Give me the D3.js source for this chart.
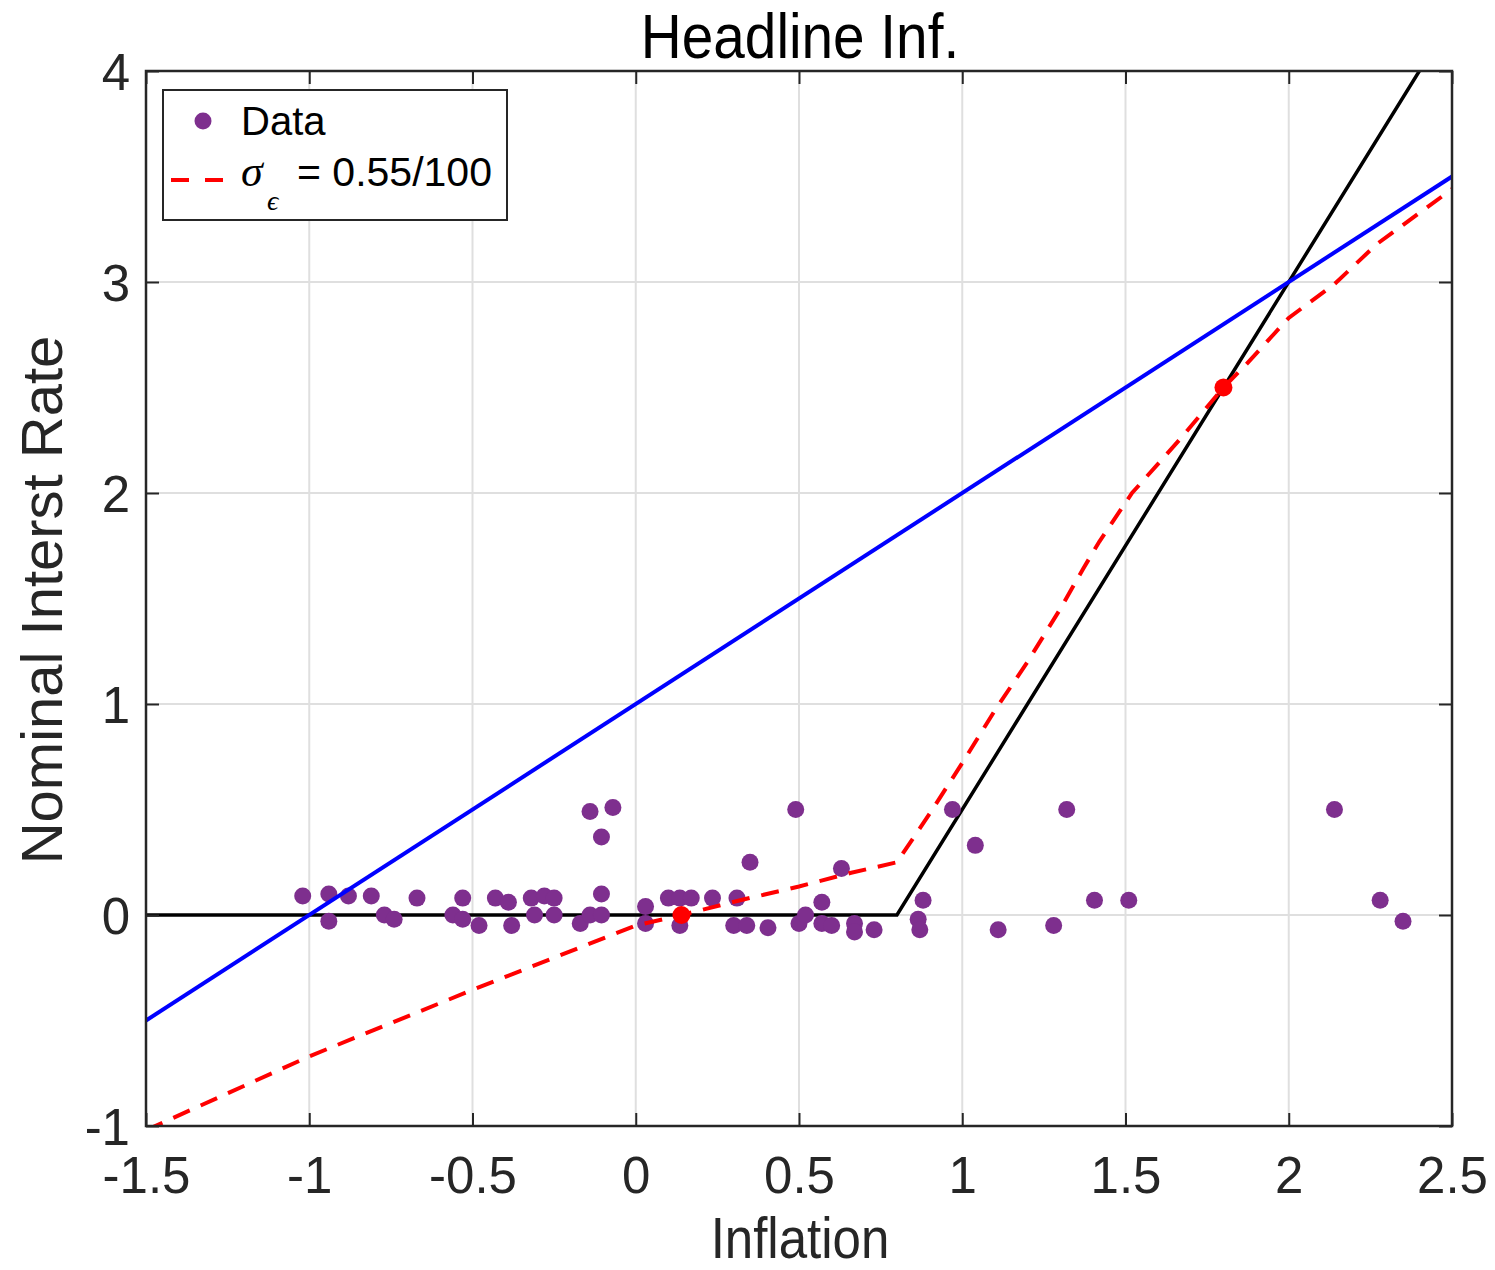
<!DOCTYPE html>
<html>
<head>
<meta charset="utf-8">
<script src="https://cdn.jsdelivr.net/npm/d3@7"></script>
<style>
  body { margin: 0; background: #fff; }
  text { font-family: "Liberation Sans", Arial, sans-serif; fill: #262626; }
</style>
</head>
<body>
<div id="chart"></div>
<script>
// scatter data (inflation, nominal rate)
const dataX = [-1.02, -0.94, -0.94, -0.88, -0.81, -0.77, -0.74, -0.67, -0.53, -0.56, -0.53, -0.48,
  -0.43, -0.39, -0.38, -0.32, -0.31, -0.28, -0.25, -0.25, -0.17, -0.14, -0.14, -0.105, -0.105,
  -0.105, -0.07, 0.03, 0.03, 0.10, 0.135, 0.17, 0.135, 0.235, 0.31, 0.30, 0.34, 0.35, 0.405,
  0.49, 0.50, 0.52, 0.57, 0.57, 0.60, 0.63, 0.67, 0.67, 0.73, 0.865, 0.88, 0.87, 0.97, 1.04,
  1.11, 1.28, 1.32, 1.405, 1.51, 2.14, 2.28, 2.35]
const dataY = [0.09, 0.10, -0.03, 0.09, 0.09, 0.00, -0.02, 0.08, 0.08, 0.00, -0.02, -0.05,
  0.08, 0.06, -0.05, 0.08, 0.00, 0.09, 0.08, 0.00, -0.04, 0.00, 0.49, 0.00, 0.10,
  0.37, 0.51, 0.04, -0.04, 0.08, 0.08, 0.08, -0.05, 0.08, 0.08, -0.05, -0.05, 0.25, -0.06,
  0.50, -0.04, 0.00, 0.06, -0.04, -0.05, 0.22, -0.04, -0.08, -0.07, -0.02, 0.07, -0.07, 0.50, 0.33,
  -0.07, -0.05, 0.50, 0.07, 0.07, 0.50, 0.07, -0.03]

// rule lines
const blueX = [-1.5, 2.5]
const blueY = [-0.5, 3.5]
const blackX = [-1.5, 0.8, 2.4]
const blackY = [0, 0, 4]

// sigma_eps = 0.55/100 curve
const redX = [-1.5, -1, -0.5, 0, 0.14, 0.32, 0.5, 0.66, 0.8, 0.9, 1.0, 1.1, 1.2, 1.3, 1.37,
  1.42, 1.52, 1.67, 1.8, 1.87, 2.0, 2.14, 2.27, 2.5]
const redY = [-1.02, -0.67, -0.355, -0.05, 0, 0.07, 0.135, 0.2, 0.25, 0.48, 0.72, 0.97, 1.2, 1.45, 1.64,
  1.77, 2.0, 2.26, 2.5, 2.61, 2.83, 2.99, 3.18, 3.44]

const markX = [0.14, 1.8]
const markY = [0, 2.5]

const xTicks = [-1.5, -1, -0.5, 0, 0.5, 1, 1.5, 2, 2.5]
const yTicks = [-1, 0, 1, 2, 3, 4]

const width = 1495
const height = 1270
const margin = { top: 71, right: 43, bottom: 144, left: 146 }
const w = width - margin.left - margin.right
const h = height - margin.top - margin.bottom

const svg = d3.select('#chart')
  .append('svg')
  .attr('width', width)
  .attr('height', height)

const g = svg.append('g')
  .attr('transform', 'translate(' + margin.left + ',' + margin.top + ')')

const x = d3.scaleLinear().domain([-1.5, 2.5]).range([0, w])
const y = d3.scaleLinear().domain([-1, 4]).range([h, 0])
const fmt = d => String(d)

g.append('defs').append('clipPath').attr('id', 'clip')
  .append('rect').attr('width', w).attr('height', h)

// grid
g.append('g').selectAll('line').data(xTicks).join('line')
  .attr('x1', d => x(d)).attr('x2', d => x(d))
  .attr('y1', 0).attr('y2', h)
  .attr('stroke', '#dfdfdf').attr('stroke-width', 2)
g.append('g').selectAll('line').data(yTicks).join('line')
  .attr('y1', d => y(d)).attr('y2', d => y(d))
  .attr('x1', 0).attr('x2', w)
  .attr('stroke', '#dfdfdf').attr('stroke-width', 2)

const plot = g.append('g').attr('clip-path', 'url(#clip)')
const line = d3.line().x(d => x(d[0])).y(d => y(d[1]))

plot.append('path')
  .datum(d3.zip(blackX, blackY))
  .attr('d', line)
  .attr('fill', 'none').attr('stroke', '#000').attr('stroke-width', 3.5)

plot.append('g').selectAll('circle')
  .data(d3.zip(dataX, dataY)).join('circle')
  .attr('cx', d => x(d[0]))
  .attr('cy', d => y(d[1]))
  .attr('r', 8.5)
  .attr('fill', '#7e2f8e')

plot.append('path')
  .datum(d3.zip(blueX, blueY))
  .attr('d', line)
  .attr('fill', 'none').attr('stroke', '#0000ff').attr('stroke-width', 4)

plot.append('path')
  .datum(d3.zip(redX, redY))
  .attr('d', line)
  .attr('fill', 'none').attr('stroke', '#ff0000').attr('stroke-width', 4)
  .attr('stroke-dasharray', '18,12')

plot.append('g').selectAll('circle')
  .data(d3.zip(markX, markY)).join('circle')
  .attr('cx', d => x(d[0]))
  .attr('cy', d => y(d[1]))
  .attr('r', 9)
  .attr('fill', '#ff0000')

// axes: ticks inward on all four sides
const tl = 13
const axisStyle = sel => {
  sel.select('.domain').remove()
  sel.selectAll('line').attr('stroke', '#262626').attr('stroke-width', 2)
}
g.append('g').attr('transform', 'translate(0,' + h + ')')
  .call(d3.axisBottom(x).tickValues(xTicks).tickSize(-tl).tickFormat(fmt))
  .call(axisStyle)
  .call(s => s.selectAll('text').attr('font-size', 51).attr('dy', null).attr('y', 67).attr('fill', '#262626'))
g.append('g')
  .call(d3.axisTop(x).tickValues(xTicks).tickSize(-tl).tickFormat(''))
  .call(axisStyle)
g.append('g')
  .call(d3.axisLeft(y).tickValues(yTicks).tickSize(-tl).tickFormat(fmt))
  .call(axisStyle)
  .call(s => s.selectAll('text').attr('font-size', 51).attr('x', -16).attr('dy', '0.36em').attr('fill', '#262626'))
g.append('g').attr('transform', 'translate(' + w + ',0)')
  .call(d3.axisRight(y).tickValues(yTicks).tickSize(-tl).tickFormat(''))
  .call(axisStyle)

g.append('rect')
  .attr('width', w).attr('height', h)
  .attr('fill', 'none').attr('stroke', '#262626').attr('stroke-width', 2.5)

// labels
svg.append('g').attr('transform', 'translate(800,58) scale(0.9,1)')
  .append('text').attr('text-anchor', 'middle').attr('font-size', 63).style('fill', '#000')
  .text('Headline Inf.')
svg.append('g').attr('transform', 'translate(800,1258) scale(0.88,1)')
  .append('text').attr('text-anchor', 'middle').attr('font-size', 58)
  .text('Inflation')
svg.append('text')
  .attr('transform', 'translate(62,600) rotate(-90)')
  .attr('text-anchor', 'middle').attr('font-size', 58)
  .text('Nominal Interst Rate')

// legend
const lg = svg.append('g')
lg.append('rect').attr('x', 163).attr('y', 90).attr('width', 344).attr('height', 130)
  .attr('fill', '#fff').attr('stroke', '#262626').attr('stroke-width', 2)
lg.append('circle').attr('cx', 203).attr('cy', 121).attr('r', 8.5).attr('fill', '#7e2f8e')
lg.append('text').attr('x', 241).attr('y', 135).attr('font-size', 40).style('fill', '#000').text('Data')
lg.append('line').attr('x1', 171).attr('x2', 223).attr('y1', 180).attr('y2', 180)
  .attr('stroke', '#ff0000').attr('stroke-width', 4).attr('stroke-dasharray', '18,16')
lg.append('text').attr('x', 241).attr('y', 186).attr('font-size', 44)
  .style('font-family', '"Liberation Serif", serif').style('font-style', 'italic').style('fill', '#000')
  .text('σ')
lg.append('text').attr('x', 267).attr('y', 210).attr('font-size', 28)
  .style('font-family', '"Liberation Serif", serif').style('font-style', 'italic').style('fill', '#000')
  .text('ϵ')
lg.append('text').attr('x', 297).attr('y', 186).attr('font-size', 41).style('fill', '#000')
  .text('= 0.55/100')
</script>
</body>
</html>
